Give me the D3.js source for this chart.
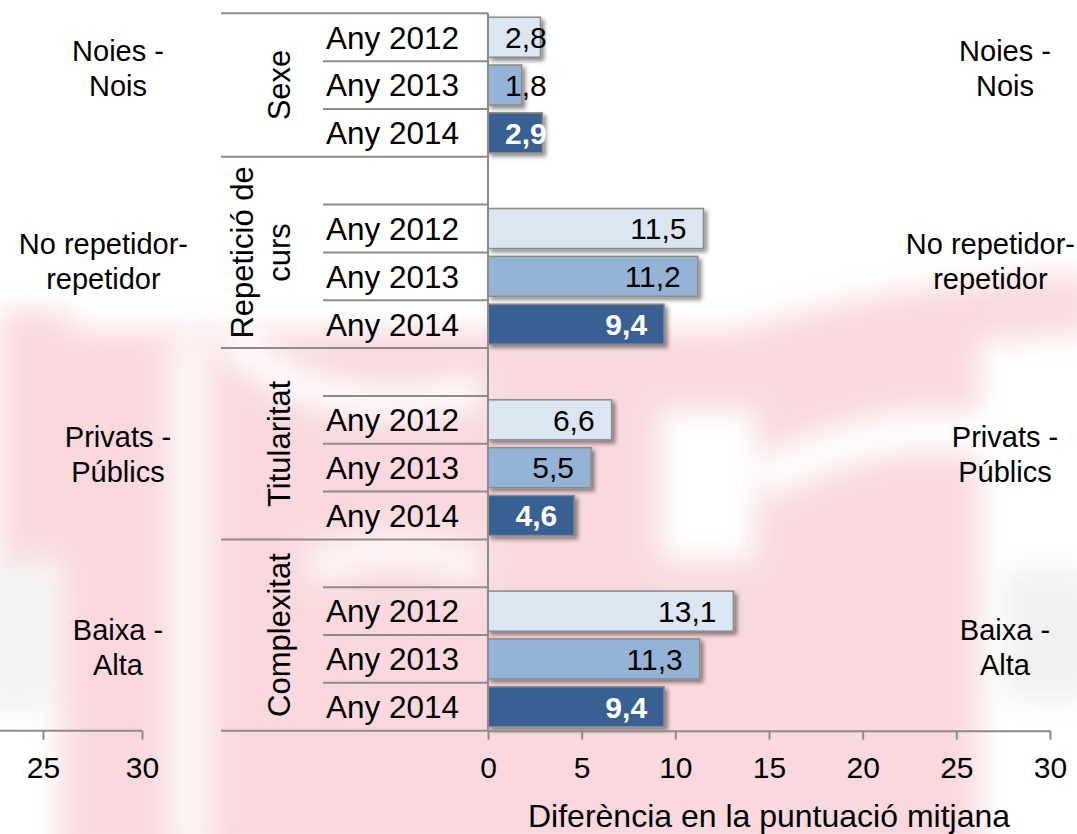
<!DOCTYPE html>
<html>
<head>
<meta charset="utf-8">
<script src="https://cdn.jsdelivr.net/npm/d3@7"></script>
<style>
  body { margin: 0; background: #fff; }
  text { font-family: "Liberation Sans", Arial, sans-serif; fill: #000; }
</style>
</head>
<body>
<div id="chart"></div>
<script>
// data
var groups = ["Sexe", "Repetició de curs", "Titularitat", "Complexitat"]
var groupLines = [["Sexe"], ["Repetició de", "curs"], ["Titularitat"], ["Complexitat"]]
var pairLabels = [["Noies -", "Nois"], ["No repetidor-", "repetidor"], ["Privats -", "Públics"], ["Baixa -", "Alta"]]
var years = ["Any 2012", "Any 2013", "Any 2014"]
var v2012 = [2.8, 11.5, 6.6, 13.1]
var v2013 = [1.8, 11.2, 5.5, 11.3]
var v2014 = [2.9, 9.4, 4.6, 9.4]
var xTicks = [0, 5, 10, 15, 20, 25, 30]
var leftTicks = [25, 30]
var axisTitle = "Diferència en la puntuació mitjana"

var colors = ["#dce6f2", "#95b3d7", "#376092"]
var W = 1077, H = 834
var lineColor = "#8c8c8c"

var svg = d3.select("#chart").append("svg").attr("width", W).attr("height", H)
var defs = svg.append("defs")
defs.append("filter").attr("id", "blur").attr("x", "-50%").attr("y", "-50%").attr("width", "200%").attr("height", "200%")
  .append("feGaussianBlur").attr("stdDeviation", 14)
defs.append("filter").attr("id", "shadow").attr("x", "-20%").attr("y", "-30%").attr("width", "140%").attr("height", "160%")
  .append("feDropShadow").attr("dx", 3).attr("dy", 3).attr("stdDeviation", 2)
  .attr("flood-color", "#000").attr("flood-opacity", 0.45)

// faded watermark behind the chart
var wm = svg.append("g").attr("filter", "url(#blur)").attr("opacity", 0.85)
wm.append("rect").attr("x", 60).attr("y", 330).attr("width", 920).attr("height", 530).attr("fill", "#f8d3d8")
wm.append("rect").attr("x", 0).attr("y", 310).attr("width", 70).attr("height", 250).attr("fill", "#f8d3d8")
wm.append("path").attr("d", "M470,480 Q760,310 1090,305").attr("fill", "none").attr("stroke", "#f8d3d8").attr("stroke-width", 60)
wm.append("rect").attr("x", 985).attr("y", 390).attr("width", 120).attr("height", 460).attr("fill", "#fff")
wm.append("rect").attr("x", 1005).attr("y", 570).attr("width", 90).attr("height", 130).attr("fill", "#eeeeee")
wm.append("rect").attr("x", 660).attr("y", 410).attr("width", 95).attr("height", 150).attr("fill", "#fff")
wm.append("path").attr("d", "M760,480 Q900,410 1000,440").attr("fill", "none").attr("stroke", "#fff").attr("stroke-width", 40)
wm.append("rect").attr("x", 170).attr("y", 340).attr("width", 40).attr("height", 510).attr("fill", "#fff").attr("opacity", 0.8)
wm.append("rect").attr("x", -20).attr("y", 560).attr("width", 70).attr("height", 150).attr("fill", "#f0f0f0")
wm.append("path").attr("d", "M230,340 Q330,430 480,390").attr("fill", "none").attr("stroke", "#fff").attr("stroke-width", 30)
wm.append("path").attr("d", "M310,570 Q400,530 480,570").attr("fill", "none").attr("stroke", "#fff").attr("stroke-width", 35).attr("opacity", 0.8)

// rows: one empty slot above every group but the first
var slots = []
groups.forEach(function(g, gi) {
  if (gi > 0) slots.push(gi + "-e")
  years.forEach(function(yr, yi) { slots.push(gi + "-" + yi) })
})
var rows = []
groups.forEach(function(g, gi) {
  [v2012, v2013, v2014].forEach(function(arr, yi) {
    rows.push({ g: gi, yi: yi, key: gi + "-" + yi, year: years[yi], value: arr[gi] })
  })
})

var x = d3.scaleLinear().domain([0, 30]).range([488, 1050])
var xLeft = d3.scaleLinear().domain([25, 30]).range([43, 142])
var y = d3.scaleBand().domain(slots).range([13.3, 730.7])
var bh = y.bandwidth()
var barPad = 3.9
var axisY = 730.7

// group frames
var frame = svg.append("g")
groups.forEach(function(g, gi) {
  var first = gi > 0 ? gi + "-e" : gi + "-0"
  frame.append("line").attr("x1", 221).attr("x2", x(0)).attr("y1", y(first)).attr("y2", y(first))
  var inner = gi > 0 ? [0, 1, 2] : [1, 2]
  inner.forEach(function(yi) {
    var k = gi + "-" + yi
    frame.append("line").attr("x1", 323).attr("x2", x(0)).attr("y1", y(k)).attr("y2", y(k))
  })
})
frame.append("line").attr("x1", 221).attr("x2", x(0)).attr("y1", axisY).attr("y2", axisY)
frame.selectAll("line").attr("stroke", lineColor).attr("stroke-width", 2)

// year labels
svg.append("g").selectAll("text").data(rows).enter().append("text")
  .attr("x", 326).attr("y", function(d) { return y(d.key) + bh / 2 })
  .attr("dy", "0.36em").style("font-size", "31.5px")
  .text(function(d) { return d.year })

// rotated group labels
groups.forEach(function(g, gi) {
  var top = gi > 0 ? y(gi + "-e") : y(gi + "-0")
  var bottom = y(gi + "-2") + bh
  var cy = (top + bottom) / 2
  var lines = groupLines[gi]
  lines.forEach(function(t, li) {
    var bx = 290 - (lines.length - 1 - li) * 37
    svg.append("text").attr("transform", "translate(" + bx + "," + cy + ") rotate(-90)")
      .attr("text-anchor", "middle").style("font-size", "31px").text(t)
  })
})

// bars
var bars = svg.append("g").attr("filter", "url(#shadow)")
bars.selectAll("rect").data(rows).enter().append("rect")
  .attr("x", x(0)).attr("y", function(d) { return y(d.key) + barPad })
  .attr("width", function(d) { return x(d.value) - x(0) })
  .attr("height", bh - 2 * barPad)
  .attr("fill", function(d) { return colors[d.yi] })
  .attr("stroke", "#8a8a8a").attr("stroke-width", 1.5)

// vertical category axis line
svg.append("line").attr("x1", x(0)).attr("x2", x(0)).attr("y1", 13.3).attr("y2", axisY)
  .attr("stroke", lineColor).attr("stroke-width", 2)

// value labels, inside end
var fmt = function(v) { return d3.format(".1f")(v).replace(".", ",") }
var lbl = svg.append("g").selectAll("text").data(rows).enter().append("text")
  .attr("y", function(d) { return y(d.key) + bh / 2 }).attr("dy", "0.36em")
  .attr("text-anchor", "end").style("font-size", "30px")
  .style("font-weight", function(d) { return d.yi == 2 ? "bold" : "normal" })
  .style("fill", function(d) { return d.yi == 2 ? "#fff" : "#000" })
  .text(function(d) { return fmt(d.value) })
lbl.attr("x", function(d) {
  var w = this.getComputedTextLength()
  return Math.max(x(d.value) - 17, x(0) + 17 + w)
})

// pair labels on both sides; a block too wide for the right edge moves left on both sides
var py = d3.scalePoint().domain(groups).range([68.5, 647.5])
var leftCx = 118, rightCx = 1005
groups.forEach(function(g, gi) {
  var c = py(g)
  ;[leftCx, rightCx].forEach(function(cx) {
    var block = svg.append("g")
    pairLabels[gi].forEach(function(t, li) {
      block.append("text").attr("y", c + (li - 0.5) * 35).attr("dy", "0.36em")
        .attr("text-anchor", "middle").style("font-size", "29px").text(t)
    })
    var w = d3.max(block.selectAll("text").nodes(), function(n) { return n.getComputedTextLength() })
    var shift = Math.min(0, W - 2 - (rightCx + w / 2))
    block.selectAll("text").attr("x", cx + shift)
  })
})

// x axes
var ax = svg.append("g").attr("transform", "translate(0," + axisY + ")")
  .call(d3.axisBottom(x).tickValues(xTicks).tickSize(9).tickSizeOuter(0).tickPadding(17).tickFormat(d3.format("d")))
var axL = svg.append("g").attr("transform", "translate(0," + axisY + ")")
  .call(d3.axisBottom(xLeft).tickValues(leftTicks).tickSize(9).tickSizeOuter(0).tickPadding(17).tickFormat(d3.format("d")))
axL.select(".domain").attr("d", "M0,0H" + xLeft(30))
;[ax, axL].forEach(function(a) {
  a.select(".domain").attr("stroke", lineColor).attr("stroke-width", 2)
  a.selectAll(".tick line").attr("stroke", lineColor).attr("stroke-width", 2)
  a.selectAll(".tick text").style("font-size", "30px").style("font-family", '"Liberation Sans", Arial, sans-serif').attr("fill", "#000")
})

svg.append("text").attr("x", (x(0) + x(30)) / 2).attr("y", 815).attr("dy", "0.36em")
  .attr("text-anchor", "middle").style("font-size", "32px").text(axisTitle)
</script>
</body>
</html>
